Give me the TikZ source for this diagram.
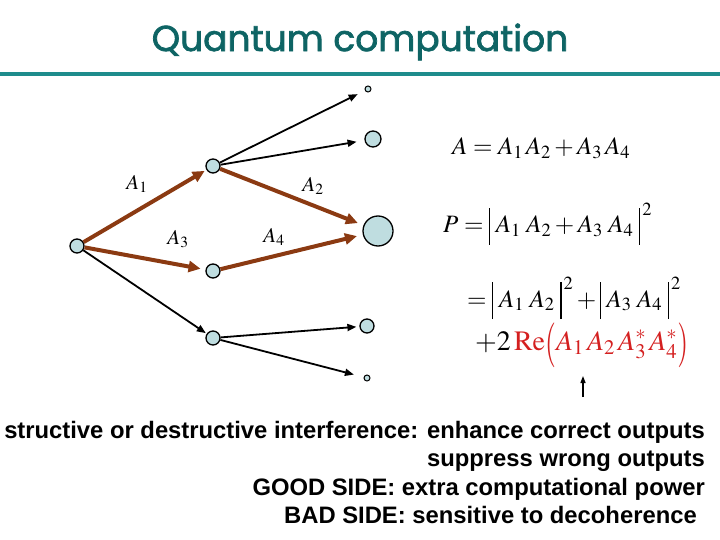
\documentclass[tikz,border=0pt]{standalone}
\usepackage{mathptmx}
\usepackage{graphicx}
\usepackage[no-math]{fontspec}
\setmainfont{Liberation Sans}
\newfontfamily\titlefont[FakeBold=2]{Poppins}
\usetikzlibrary{arrows.meta}
\definecolor{TitleTeal}{HTML}{0E6464}
\definecolor{RuleTeal}{HTML}{1E8C8C}
\definecolor{NodeBlue}{HTML}{BFDDE0}
\definecolor{PathBrown}{HTML}{8B3A12}
\definecolor{ReRed}{HTML}{D42020}
\newcommand{\vbar}{\mathord{\rule[-12pt]{1.3pt}{37pt}}}
\newcommand{\tallparen}[1]{\mathord{\raisebox{-6pt}{\scalebox{1}[1.6]{$#1$}}}}

\begin{document}
\begin{tikzpicture}[x=1pt, y=-1pt,
    dot/.style={circle, draw=black, line width=1.3pt, fill=NodeBlue, inner sep=0pt, minimum size=14pt},
    tiny/.style={dot, line width=1pt, minimum size=6pt},
    amp/.style={PathBrown, line width=4pt, -{Triangle[length=12pt, width=11pt]}},
    branch/.style={black, line width=1.8pt, -{Triangle[length=9pt, width=7pt]}},
    lab/.style={font=\fontsize{21}{25}\selectfont},
    eq/.style={anchor=base west, inner sep=0pt, font=\fontsize{25}{30}\selectfont},
    say/.style={anchor=base east, inner sep=0pt, font=\fontsize{23.8}{28}\selectfont\bfseries}
]
\useasboundingbox (0,0) rectangle (720,540);

% Title and rule
\node[TitleTeal, font=\fontsize{36}{40}\selectfont\titlefont] (title) at (360,42) {Quantum computation};
\draw[RuleTeal, line width=4pt] (0,74) -- (720,74);

% Tree of paths
\node[dot] (root) at (77,246) {};
\node[dot] (up) at (213,166) {};
\node[dot] (mid) at (213,271) {};
\node[dot] (low) at (213,338) {};
\node[tiny] (o1) at (368,89) {};
\node[dot, minimum size=16pt] (o2) at (373,139) {};
\node[dot, minimum size=30pt] (o3) at (378,231) {};
\node[dot] (o4) at (367,326) {};
\node[tiny] (o5) at (367,378) {};

\draw[amp, shorten >=2pt] (root) -- (up);
\draw[amp, shorten >=5pt] (root) -- (mid);
\draw[amp, shorten >=6pt] (up) -- (o3);
\draw[amp, shorten >=6pt] (mid) -- (o3);
\draw[branch, shorten >=1pt] (root) -- (low);
\draw[branch, shorten >=8pt] (up) -- (o1);
\draw[branch, shorten >=8pt] (up) -- (o2);
\draw[branch, shorten >=3pt] (low) -- (o4);
\draw[branch, shorten >=10pt] (low) -- (o5);

\node[lab] (a1) at (137,184) {$A_1$};
\node[lab] (a2) at (313,186) {$A_2$};
\node[lab] (a3) at (178,239) {$A_3$};
\node[lab] (a4) at (274,237) {$A_4$};

% Amplitudes
\node[eq] (eqA) at (452,155) {$A = A_1\,A_2 + A_3\,A_4$};
\node[eq] (eqP) at (443,233) {$P = \vbar\,\,A_1\,\,A_2 + A_3\,\,A_4\,\,\vbar^{\,2}$};
\node[eq] (eqS) at (467,307) {$= \vbar\;A_1\;A_2\;\vbar^{\,2} + \vbar\;A_3\;A_4\;\vbar^{\,2}$};
\node[eq, font=\fontsize{28}{33}\selectfont] (eqR) at (475,350) {$+2\,\textcolor{ReRed}{\mathrm{Re}\tallparen{(}A_1\,A_2\,A_3^*\,A_4^*\tallparen{)}}$};
\coordinate (tail) at (583,397);
\coordinate (head) at (583,376);
\draw[black, line width=1.3pt, -{Triangle[length=7pt, width=5pt]}] (tail) -- (head);

% Remarks
\node[say] (r1) at (705,438) {structive or destructive interference: enhance correct outputs};
\node[say] (r2) at (705,466) {suppress wrong outputs};
\node[say] (r3) at (705,495) {GOOD SIDE: extra computational power};
\node[say] (r4) at (697,523) {BAD SIDE: sensitive to decoherence};
\end{tikzpicture}
\end{document}
